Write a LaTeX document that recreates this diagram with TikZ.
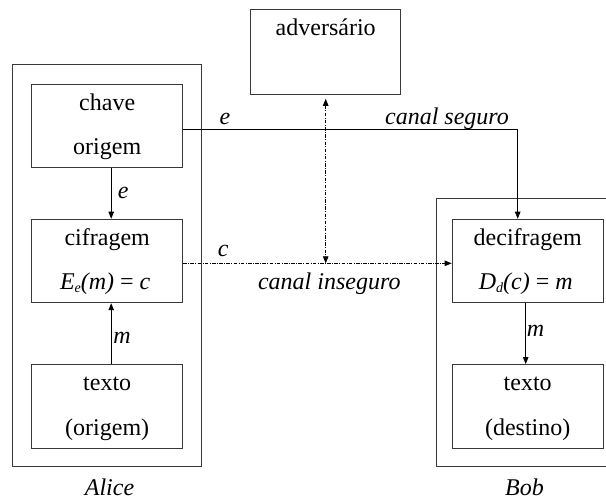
\documentclass[tikz,border=0pt]{standalone}
\usepackage{fontspec}
\setmainfont{Liberation Serif}
\usetikzlibrary{arrows.meta}
\newcommand{\lowidx}[1]{\raisebox{-0.28ex}{\fontsize{14}{14}\selectfont #1}}
\begin{document}
\begin{tikzpicture}[x=1pt,y=-1pt,
  font=\fontsize{24}{28}\selectfont,
  box/.style={draw=black!78,line width=1pt,minimum width=151pt,minimum height=83.5pt,inner sep=0pt},
  outer/.style={draw=black!78,line width=1pt,inner sep=0pt},
  txt/.style={anchor=base,inner sep=0pt},
  lbl/.style={anchor=base,inner sep=0pt,font=\fontsize{24}{28}\selectfont\itshape},
  arr/.style={line width=0.9pt,-{Triangle[length=7pt,width=5.5pt]}},
  dd/.style={dash pattern=on 3.5pt off 1.4pt on 0.9pt off 1.4pt}]
\useasboundingbox (0,0) rectangle (606,500);
\clip (0,0) rectangle (606,500);
% outer frames
\node[outer,minimum width=189pt,minimum height=401pt] (alice) at (106.9,265.5) {};
\node[outer,minimum width=190pt,minimum height=267.7pt] (bob) at (531,332.15) {};
% boxes
\node[box,minimum width=150.4pt,minimum height=84.3pt] (adv) at (325.7,52.15) {};
\node[box] (chave) at (107.2,125.8) {};
\node[box] (cifr) at (107.2,261) {};
\node[box] (txo) at (107.2,406.3) {};
\node[box] (decif) at (527.7,261) {};
\node[box] (txd) at (527.7,406.3) {};
% box texts
\node[txt] (tadv) at ([yshift=-26pt]adv.north) {adversário};
\node[txt] (tch1) at ([yshift=-26.7pt]chave.north) {chave};
\node[txt] (tch2) at ([yshift=-71pt]chave.north) {origem};
\node[txt] (tci1) at ([yshift=-26.7pt]cifr.north) {cifragem};
\node[txt] (tci2) at ([xshift=-2pt,yshift=-71pt]cifr.north) {\itshape E\lowidx{e}(m)\upshape{} = \itshape c};
\node[txt] (ttx1) at ([yshift=-26.7pt]txo.north) {texto};
\node[txt] (ttx2) at ([yshift=-71pt]txo.north) {(origem)};
\node[txt] (tde1) at ([yshift=-26.7pt]decif.north) {decifragem};
\node[txt] (tde2) at ([xshift=-2pt,yshift=-71pt]decif.north) {\itshape D\lowidx{d}(c)\upshape{} = \itshape m};
\node[txt] (ttd1) at ([yshift=-26.7pt]txd.north) {texto};
\node[txt] (ttd2) at ([yshift=-71pt]txd.north) {(destino)};
% coordinates
\coordinate (k1) at (517.7,129.3);
\coordinate (ch) at (325.7,263.3);
% secure channel
\draw[arr] (chave.east |- k1) -| ([xshift=-10pt]decif.north);
% alice arrows
\draw[arr] ([xshift=4pt]chave.south) -- ([xshift=4pt]cifr.north);
\draw[arr] ([xshift=4pt]txo.north) -- ([xshift=4pt]cifr.south);
% bob arrow
\draw[arr] ([xshift=-2pt]decif.south) -- ([xshift=-2pt]txd.north);
% insecure channel
\draw[arr,dd] (cifr.east |- ch) -- (decif.west |- ch);
\draw[line width=0.9pt,dd,{Triangle[length=7pt,width=5.5pt]}-{Triangle[length=7pt,width=5.5pt]}] ([yshift=-4pt]adv.south) -- (adv.south |- ch);
% labels
\node[lbl] (le1) at (225,124.3) {e};
\node[lbl] (lsec) at (447,124.3) {canal seguro};
\node[lbl] (le2) at (123.3,198.3) {e};
\node[lbl] (lc) at (223.3,256.7) {c};
\node[lbl] (lins) at (329.3,289.3) {canal inseguro};
\node[lbl] (lm1) at (122,344) {m};
\node[lbl] (lm2) at (535.5,336.7) {m};
\node[lbl] (lal) at (109.5,495.5) {Alice};
\node[lbl] (lbo) at (524.5,495.5) {Bob};
\end{tikzpicture}
\end{document}
